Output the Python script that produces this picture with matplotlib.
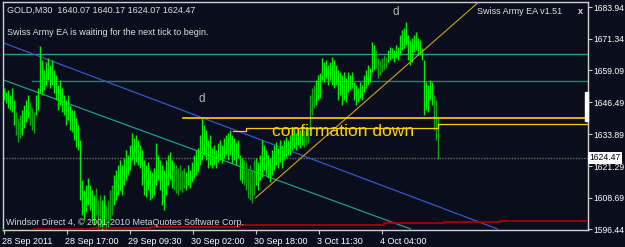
import matplotlib
matplotlib.use('Agg')
import matplotlib.pyplot as plt
import matplotlib.transforms as mtransforms
from matplotlib.patches import Rectangle
import numpy as np

# chart header
symbol = 'GOLD,M30'
last_ohlc = [1640.07, 1640.17, 1624.07, 1624.47]

# M30 bars, oldest first (high / low)
highs = [
    1652.0, 1650.4, 1651.2, 1649.3, 1652.0, 1647.3, 1642.6, 1640.2, 1641.4, 1643.4,
    1645.3, 1647.3, 1649.3, 1646.5, 1644.1, 1642.6, 1649.3, 1652.0, 1668.6, 1663.1,
    1659.1, 1662.3, 1663.9, 1661.1, 1663.1, 1659.1, 1657.1, 1653.2, 1655.2, 1652.0,
    1649.3, 1647.3, 1649.3, 1645.3, 1643.4, 1643.4, 1640.2, 1637.5, 1631.5, 1615.8,
    1611.8, 1613.8, 1616.6, 1613.8, 1611.8, 1609.9, 1612.6, 1607.9, 1609.9, 1607.9,
    1609.9, 1605.9, 1607.9, 1611.8, 1613.8, 1617.7, 1619.7, 1621.7, 1623.7, 1621.7,
    1624.4, 1627.6, 1625.6, 1629.6, 1634.3, 1632.3, 1633.5, 1631.5, 1629.6, 1627.6,
    1623.7, 1621.7, 1622.9, 1619.7, 1618.9, 1620.5, 1630.4, 1625.6, 1623.7, 1621.7,
    1619.7, 1623.7, 1625.6, 1626.8, 1623.7, 1622.9, 1621.7, 1620.5, 1621.7, 1619.7,
    1620.5, 1618.9, 1621.7, 1619.7, 1622.9, 1625.6, 1627.6, 1628.4, 1633.5, 1640.2,
    1637.5, 1635.5, 1631.5, 1633.5, 1628.4, 1629.6, 1627.6, 1630.4, 1631.5, 1629.6,
    1632.3, 1633.5, 1634.3, 1635.5, 1633.5, 1632.3, 1630.7, 1631.5, 1625.6, 1624.4,
    1623.7, 1622.9, 1619.7, 1621.7, 1619.7, 1623.7, 1624.4, 1622.9, 1625.6, 1631.5,
    1629.6, 1627.6, 1625.6, 1624.4, 1627.6, 1629.6, 1630.7, 1628.4, 1631.5, 1629.6,
    1631.5, 1632.7, 1631.5, 1633.5, 1635.5, 1636.7, 1634.3, 1636.3, 1635.5, 1637.1,
    1635.5, 1636.3, 1636.7, 1649.3, 1652.0, 1653.2, 1655.2, 1657.1, 1657.9, 1663.9,
    1662.3, 1663.1, 1661.1, 1662.3, 1664.2, 1663.1, 1661.1, 1659.1, 1658.3, 1657.1,
    1658.3, 1656.0, 1658.3, 1657.1, 1658.3, 1654.4, 1653.2, 1652.0, 1654.4, 1653.2,
    1657.1, 1659.1, 1661.1, 1659.9, 1670.2, 1669.0, 1667.0, 1663.9, 1663.1, 1663.9,
    1665.0, 1664.2, 1667.0, 1668.2, 1667.8, 1667.0, 1669.0, 1668.2, 1672.9, 1674.9,
    1675.7, 1678.0, 1672.9, 1670.9, 1671.7, 1672.9, 1674.1, 1671.7, 1670.9, 1667.8,
    1663.1, 1654.4, 1653.2, 1655.2, 1654.4, 1649.3, 1647.3, 1640.17,
]
lows = [
    1647.3, 1646.1, 1644.1, 1643.4, 1642.6, 1637.5, 1633.5, 1630.7, 1632.3, 1633.5,
    1636.3, 1638.6, 1640.2, 1637.5, 1635.5, 1634.3, 1641.4, 1643.4, 1650.1, 1649.3,
    1651.2, 1653.2, 1655.2, 1652.0, 1653.2, 1650.1, 1647.3, 1643.4, 1645.3, 1642.6,
    1641.4, 1637.5, 1639.4, 1635.5, 1634.7, 1631.5, 1628.8, 1627.6, 1607.9, 1602.0,
    1600.0, 1603.2, 1605.9, 1604.0, 1600.0, 1598.0, 1602.0, 1596.1, 1596.9, 1596.1,
    1598.0, 1596.1, 1596.9, 1600.0, 1602.0, 1605.9, 1607.9, 1609.9, 1611.8, 1609.9,
    1613.8, 1615.8, 1617.7, 1619.7, 1623.7, 1621.7, 1622.9, 1621.7, 1620.5, 1613.8,
    1609.9, 1609.1, 1611.8, 1607.9, 1608.7, 1609.9, 1613.8, 1615.8, 1611.8, 1605.9,
    1604.0, 1609.9, 1613.8, 1615.8, 1612.6, 1611.8, 1610.7, 1609.9, 1611.8, 1611.1,
    1612.6, 1611.8, 1613.8, 1612.6, 1615.0, 1616.6, 1617.7, 1618.9, 1621.7, 1623.7,
    1625.6, 1623.7, 1620.5, 1621.7, 1620.5, 1621.7, 1620.5, 1622.9, 1623.7, 1622.5,
    1624.4, 1625.6, 1623.7, 1625.6, 1622.5, 1623.7, 1621.7, 1624.4, 1615.8, 1614.6,
    1613.8, 1611.8, 1608.7, 1607.9, 1606.7, 1609.9, 1613.8, 1611.8, 1615.8, 1617.0,
    1619.7, 1617.7, 1616.6, 1615.0, 1617.7, 1619.7, 1621.7, 1620.5, 1622.9, 1620.5,
    1623.7, 1624.4, 1625.6, 1625.6, 1627.6, 1628.4, 1627.6, 1629.6, 1628.4, 1629.6,
    1628.8, 1629.6, 1630.4, 1635.5, 1641.4, 1644.1, 1645.3, 1647.3, 1648.1, 1655.2,
    1654.4, 1656.0, 1653.2, 1655.2, 1653.2, 1652.0, 1653.2, 1647.3, 1649.3, 1645.3,
    1647.3, 1646.5, 1650.4, 1651.2, 1652.0, 1647.3, 1645.3, 1646.5, 1648.1, 1647.3,
    1650.4, 1652.0, 1653.2, 1654.4, 1658.3, 1659.1, 1659.9, 1656.0, 1657.1, 1658.3,
    1659.1, 1659.9, 1662.3, 1663.1, 1663.9, 1662.3, 1663.9, 1663.1, 1665.0, 1667.0,
    1667.8, 1669.0, 1663.1, 1661.1, 1662.3, 1666.2, 1667.0, 1665.0, 1665.0, 1663.1,
    1641.4, 1643.4, 1642.6, 1647.3, 1645.3, 1635.5, 1631.5, 1624.07,
]
# bars that show in the darker green
down_bars = [6, 7, 8, 13, 14, 15, 46, 47, 48, 51, 52, 53, 54, 85, 86, 87, 88, 89, 90,
             120, 121, 122, 123, 124, 125, 150, 151, 152, 153, 154, 155,
             186, 187, 188, 189, 190, 191, 215, 216, 217]

# slow moving average (red) at the bottom
ma_bars = [0, 15, 44, 73, 118, 148, 190, 220, 248, 292.5]
ma_vals = [1596.1, 1596.5, 1596.9, 1597.3, 1598.0, 1598.0, 1598.8, 1599.2, 1599.6, 1600.0]

# trendlines: (bar, price) anchors
blue_trend = ([0, 247], [1669.8, 1596.5])
teal_trend = ([0, 203.5], [1655.2, 1596.5])
gold_trend = ([126, 237], [1608.7, 1685.5])

# horizontal levels
teal_levels = [1665.4, 1654.8]
teal_starts = [0, 14]
yellow_level = 1640.2
yellow_start = 89.5
conf_bars = [114.5, 121, 217, 292.5]
conf_vals = [1635.1, 1636.3, 1637.8]

# axis labels
price_ticks = [1683.94, 1671.34, 1659.09, 1646.49, 1633.89, 1621.29, 1608.69, 1596.44]
time_labels = ['28 Sep 2011', '28 Sep 17:00', '29 Sep 09:30', '30 Sep 02:00',
               '30 Sep 18:00', '3 Oct 11:30', '4 Oct 04:00']
time_bars = [0, 31.5, 63, 94.5, 126, 157.5, 189]

bg = '#0a0e1c'
plt.rcParams['font.family'] = ['Liberation Sans', 'DejaVu Sans']

fig = plt.figure(figsize=(6.25, 2.47), dpi=100, facecolor=bg)
ax = fig.add_axes([2.5 / 625, 17 / 247, 585.5 / 625, 228 / 247], facecolor=bg)
ax.set_xlim(-0.5, 292.25)
ax.set_ylim(1596.08, 1685.91)

idx = np.arange(len(highs))
cols = ['#10a010' if i in down_bars else '#00f000' for i in idx]
ax.vlines(idx, lows, highs, colors=cols, lw=1.0, zorder=3)

# levels and lines
for lv, st, c in zip(teal_levels, teal_starts, ['#22a08c', '#1d8275']):
    ax.plot([st, 292.5], [lv, lv], color=c, lw=1.0, zorder=2)
ax.plot([-0.5, 292.5], [last_ohlc[3]] * 2, color='#707070', lw=1.0, ls=(0, (1, 1)), zorder=2)
ax.plot(*blue_trend, color='#3558c8', lw=0.9, zorder=2)
ax.plot(*teal_trend, color='#209a8a', lw=0.9, zorder=2)
ax.plot(*gold_trend, color='#c9a21a', lw=0.8, zorder=4)
ax.plot([yellow_start, 292.5], [yellow_level] * 2, color='#ffd000', lw=1.2, zorder=4)
ax.step(conf_bars, conf_vals + [conf_vals[-1]], where='post', color='#ffd000', lw=0.9, zorder=4)
ax.step(ma_bars, ma_vals, where='post', color='#b00000', lw=1.2, zorder=4)
ax.add_patch(Rectangle((290.6, 1638.9), 1.7, 11.5, color='white', zorder=5, clip_on=False))

# labels on the chart
ax.text(99, 1645.3, 'd', color='#b8b8b8', fontsize=8.5, ha='center', va='bottom')
ax.text(196, 1679.6, 'd', color='#b8b8b8', fontsize=8.5, ha='center', va='bottom')
ax.text(134.5, 1633.1, 'confirmation down', color='#ffd000', fontsize=12.6,
        ha='left', va='baseline', zorder=6)

fig.text(7 / 625, 1 - 10 / 247, symbol + '  ' + ' '.join('%.2f' % v for v in last_ohlc),
         color='#e0e0e0', fontsize=6.5, va='center')
fig.text(7 / 625, 1 - 32.5 / 247, 'Swiss Army EA is waiting for the next tick to begin.',
         color='#e0e0e0', fontsize=6.5, va='center')
fig.text(477 / 625, 1 - 12 / 247, 'Swiss Army EA v1.51', color='#e0e0e0', fontsize=6.5, va='center')
fig.text(578 / 625, 1 - 12 / 247, 'x', color='#e0e0e0', fontsize=6.5, va='center', weight='bold')
fig.text(6 / 625, 1 - 222.5 / 247, 'Windsor Direct 4, \u00a9 2001-2010 MetaQuotes Software Corp.',
         color='#d8d8d8', fontsize=6.5, va='center', zorder=10)

# axes
ax.yaxis.tick_right()
ax.set_yticks(price_ticks)
ax.set_yticklabels(['%.2f' % p for p in price_ticks])
ax.set_xticks(time_bars)
ax.set_xticklabels(time_labels, ha='left')
ax.tick_params(colors='#c8c8c8', labelcolor='white', labelsize=6.5, length=3, width=0.8, pad=2)
ax.tick_params(axis='y', labelsize=6.2, pad=1)
offset = mtransforms.ScaledTranslation(-1.5 / 100, 0, fig.dpi_scale_trans)
for lab in ax.get_xticklabels():
    lab.set_transform(lab.get_transform() + offset)
for s in ax.spines.values():
    s.set_color('#d0d0d0')
    s.set_linewidth(1.0)

# current price marker
tr = mtransforms.blended_transform_factory(ax.transAxes, ax.transData)
ax.text(1.003, last_ohlc[3], '%.2f' % last_ohlc[3], transform=tr, color='black', fontsize=6.2,
        va='center', ha='left', zorder=10,
        bbox=dict(boxstyle='square,pad=0.15', fc='white', ec='none'))

fig.savefig('out.png', dpi=100, facecolor=bg)
